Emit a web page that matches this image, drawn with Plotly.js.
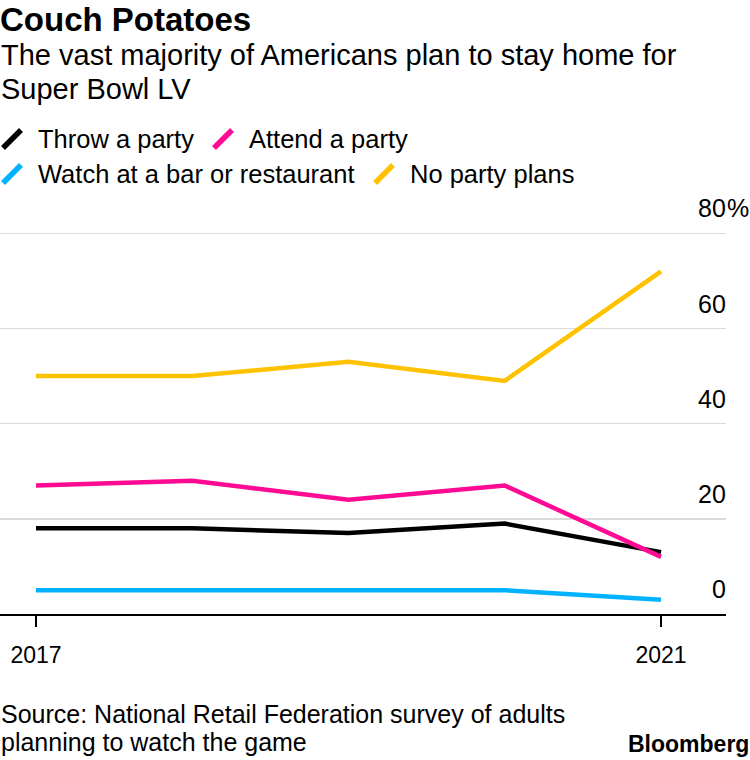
<!DOCTYPE html>
<html>
<head>
<meta charset="utf-8">
<script src="https://cdn.plot.ly/plotly-3.0.1.min.js"></script>
<style>
  html, body { margin: 0; padding: 0; background: #ffffff; }
  #chart { width: 750px; height: 760px; }
</style>
</head>
<body>
<div id="chart"></div>
<script>
// ---- Data ----
const years = [2017, 2018, 2019, 2020, 2021];
const seriesNames = ["Throw a party", "Attend a party", "Watch at a bar or restaurant", "No party plans"];
const throwParty  = [18, 18, 17, 19, 13];
const attendParty = [27, 28, 24, 27, 12];
const watchBar    = [5, 5, 5, 5, 3];
const noPlans     = [50, 50, 53, 49, 72];
const xTickVals = [2017, 2021];
const xTickText = ["2017", "2021"];
const yTickVals = [0, 20, 40, 60, 80];
const yTickText = ["0", "20", "40", "60", "80"];
const yUnit = "%";
const titleText = "Couch Potatoes";
const subtitleLines = ["The vast majority of Americans plan to stay home for", "Super Bowl LV"];
const sourceLines = ["Source: National Retail Federation survey of adults", "planning to watch the game"];
const brandText = "Bloomberg";

// ---- Style ----
const colors = ["#000000", "#ff0a93", "#00b2ff", "#ffc200"];
const FONT = "Liberation Sans, Arial, sans-serif";
const W = 750, H = 760;
const plotLeft = 0, plotRight = 726, plotTop = 231, plotBottom = 614;
const pw = plotRight - plotLeft, ph = plotBottom - plotTop;
const px = x => (x - plotLeft) / pw;
const py = y => (plotBottom - y) / ph;

const seriesValues = [throwParty, attendParty, watchBar, noPlans];
const traces = seriesValues.map((vals, i) => ({
  type: "scatter",
  mode: "lines",
  x: years,
  y: vals,
  name: seriesNames[i],
  line: { color: colors[i], width: 4.5 },
  hoverinfo: "x+y+name",
  showlegend: false
}));

const shapes = [];
const annotations = [];

// Custom legend: slanted swatches + labels
const legendPos = [
  { x: 3, y: 139 }, { x: 214, y: 139 },
  { x: 3, y: 174 }, { x: 375, y: 174 }
];
seriesNames.forEach((name, i) => {
  const p = legendPos[i];
  shapes.push({
    type: "line", xref: "paper", yref: "paper",
    x0: px(p.x), y0: py(p.y + 9), x1: px(p.x + 18), y1: py(p.y - 9),
    line: { color: colors[i], width: 5.5 }
  });
  annotations.push({
    xref: "paper", yref: "paper", x: px(p.x + 33), y: py(p.y),
    xanchor: "left", yanchor: "middle", showarrow: false,
    text: name, font: { family: FONT, size: 25.5, color: "#000" }
  });
});

// Subtitle lines
subtitleLines.forEach((t, i) => {
  annotations.push({
    xref: "paper", yref: "paper", x: px(-1), y: py(55 + i * 33.5),
    xanchor: "left", yanchor: "middle", showarrow: false,
    text: t, font: { family: FONT, size: 29, color: "#000" }
  });
});

// Y tick labels (placed above their gridlines, Bloomberg style)
yTickVals.forEach((v, i) => {
  annotations.push({
    xref: "paper", yref: "y", x: 1, y: v,
    xanchor: "right", yanchor: "middle", xshift: 2, yshift: 25, showarrow: false,
    text: yTickText[i], font: { family: FONT, size: 25, color: "#000" }
  });
});
annotations.push({
  xref: "paper", yref: "y", x: 1, y: yTickVals[yTickVals.length - 1],
  xanchor: "left", yanchor: "middle", xshift: -1, yshift: 25, showarrow: false,
  text: yUnit, font: { family: FONT, size: 25, color: "#000" }
});

// Source lines
sourceLines.forEach((t, i) => {
  annotations.push({
    xref: "paper", yref: "paper", x: px(-1), y: py(713.5 + i * 28.5),
    xanchor: "left", yanchor: "middle", showarrow: false,
    text: t, font: { family: FONT, size: 25, color: "#000" }
  });
});
// Bloomberg mark
annotations.push({
  xref: "paper", yref: "paper", x: px(751), y: py(744),
  xanchor: "right", yanchor: "middle", showarrow: false,
  text: "<b>" + brandText + "</b>", font: { family: FONT, size: 23, color: "#000" }
});

const layout = {
  width: W, height: H,
  margin: { l: plotLeft, r: W - plotRight, t: plotTop, b: H - plotBottom, pad: 0 },
  paper_bgcolor: "#ffffff", plot_bgcolor: "#ffffff",
  font: { family: FONT, color: "#000" },
  title: {
    text: "<b>" + titleText + "</b>",
    xref: "container", yref: "container",
    x: 0, xanchor: "left", y: 1 - 19 / H, yanchor: "middle",
    font: { family: FONT, size: 33, color: "#000" }
  },
  xaxis: {
    range: [2016.7696, 2021.4160],
    tickvals: xTickVals, ticktext: xTickText,
    ticks: "outside", ticklen: 11, tickwidth: 1.5, tickcolor: "#000",
    showline: true, linecolor: "#000", linewidth: 1.5,
    showgrid: false, zeroline: false,
    tickfont: { family: FONT, size: 23, color: "#000" },
    ticklabelstandoff: 9,
    fixedrange: true
  },
  yaxis: {
    range: [0, 80.5],
    side: "right",
    tickvals: yTickVals,
    showticklabels: false,
    ticks: "",
    showgrid: true, gridcolor: "#dadada", gridwidth: 1.5,
    showline: false, zeroline: false,
    fixedrange: true
  },
  shapes: shapes,
  annotations: annotations,
  showlegend: false
};

Plotly.newPlot("chart", traces, layout, { displayModeBar: false, staticPlot: true });
</script>
</body>
</html>
